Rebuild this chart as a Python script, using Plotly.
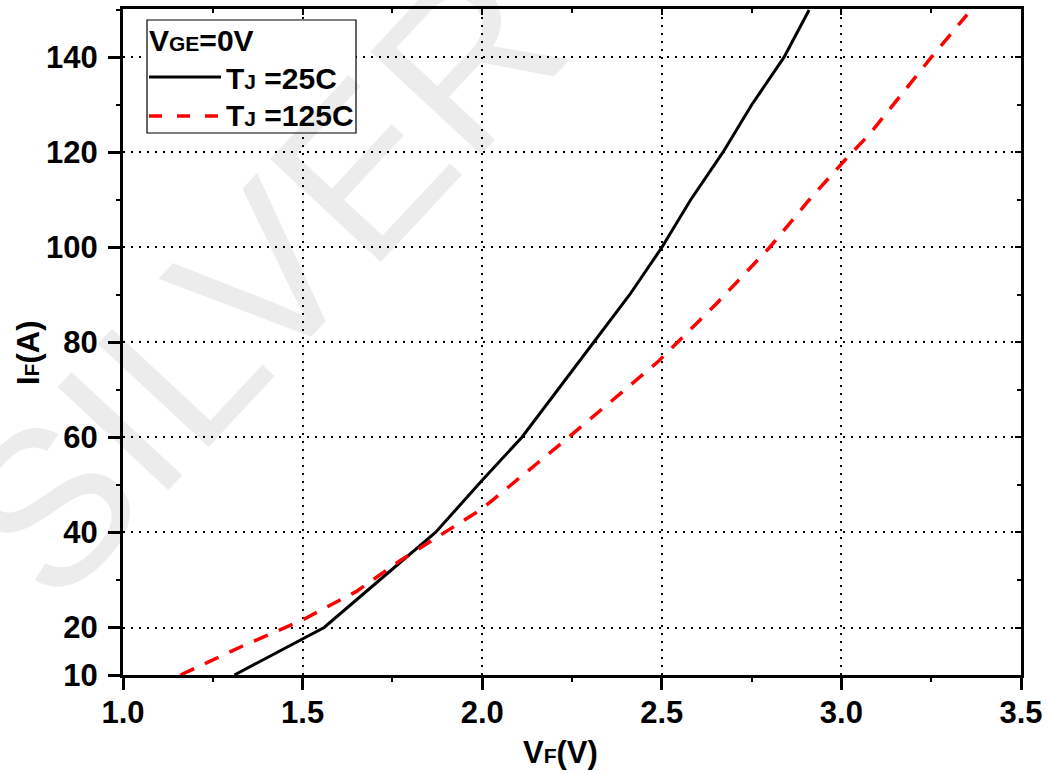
import plotly.graph_objects as go

# ---- data ----
vf_25 = [1.31, 1.56, 1.73, 1.87, 2.00, 2.11, 2.21, 2.31, 2.41, 2.50, 2.58, 2.67, 2.75, 2.84, 2.91]
if_25 = [10, 20, 31, 40, 51, 60, 70, 80, 90, 100, 110, 120, 130, 140, 150]

vf_125 = [1.16, 1.33, 1.50, 1.65, 1.77, 2.00, 2.24, 2.49, 2.65, 2.80, 2.91, 3.01, 3.08, 3.25, 3.35]
if_125 = [10, 16, 21.6, 27.6, 34, 45, 60, 76, 88, 100, 110, 118.4, 124, 140, 149]

x_ticks = [1.0, 1.5, 2.0, 2.5, 3.0, 3.5]
x_ticktext = ["1.0", "1.5", "2.0", "2.5", "3.0", "3.5"]
y_ticks = [10, 20, 40, 60, 80, 100, 120, 140]
y_minor = [30, 50, 70, 90, 110, 130, 150]
x_minor = [1.25, 1.75, 2.25, 2.75, 3.25]

FONT = "Liberation Sans, Arial, sans-serif"
X_RANGE = [1.0, 3.5]
Y_RANGE = [10, 150.2]

fig = go.Figure()
fig.add_trace(go.Scatter(x=vf_25, y=if_25, mode="lines", showlegend=False,
                         line=dict(color="black", width=3)))
fig.add_trace(go.Scatter(x=vf_125, y=if_125, mode="lines", showlegend=False,
                         line=dict(color="#ff0000", width=3.5, dash="15px,12px")))

tickfont = dict(family=FONT, size=31, color="black", weight="bold")

fig.update_layout(
    width=1047, height=774,
    margin=dict(l=123, r=26, t=9, b=99),
    paper_bgcolor="white", plot_bgcolor="white",
    font=dict(family=FONT, color="black"),
    xaxis=dict(
        range=X_RANGE, tickvals=x_ticks, ticktext=x_ticktext,
        ticks="outside", ticklen=12, tickwidth=3, tickcolor="black",
        tickfont=tickfont, ticklabelstandoff=-4,
        minor=dict(tickvals=x_minor, ticks="outside", ticklen=4, tickwidth=2,
                   tickcolor="black", showgrid=False),
        showline=True, linecolor="black", linewidth=3, mirror=True,
        showgrid=True, gridcolor="black", gridwidth=2, griddash="2px,6px",
        zeroline=False, automargin=False,
    ),
    yaxis=dict(
        range=Y_RANGE, tickvals=y_ticks,
        ticks="outside", ticklen=12, tickwidth=3, tickcolor="black",
        tickfont=tickfont, ticklabelstandoff=4,
        minor=dict(tickvals=y_minor, ticks="outside", ticklen=4, tickwidth=2,
                   tickcolor="black", showgrid=False),
        showline=True, linecolor="black", linewidth=3, mirror=True,
        showgrid=True, gridcolor="black", gridwidth=2, griddash="2px,6px",
        zeroline=False, automargin=False,
    ),
    xaxis2=dict(
        overlaying="x", side="top", anchor="y", range=X_RANGE,
        tickvals=x_ticks, ticks="inside", ticklen=6, tickwidth=2, tickcolor="black",
        showticklabels=False, showgrid=False, showline=False, zeroline=False,
        minor=dict(tickvals=x_minor, ticks="inside", ticklen=4, tickwidth=2, tickcolor="black"),
    ),
    yaxis2=dict(
        overlaying="y", side="right", anchor="x", range=Y_RANGE,
        tickvals=y_ticks, ticks="inside", ticklen=6, tickwidth=2, tickcolor="black",
        showticklabels=False, showgrid=False, showline=False, zeroline=False,
        minor=dict(tickvals=y_minor, ticks="inside", ticklen=4, tickwidth=2, tickcolor="black"),
    ),
)

# invisible trace so the mirrored tick axes are drawn
fig.add_trace(go.Scatter(x=[X_RANGE[0]], y=[Y_RANGE[0]], xaxis="x2", yaxis="y2",
                         mode="markers", marker=dict(opacity=0), showlegend=False,
                         hoverinfo="skip"))


def px_x(p):
    return (p - 123) / 898.0


def px_y(p):
    return (675 - p) / 666.0


# ---- watermark ----
fig.add_annotation(
    text="SILVER", xref="paper", yref="paper", x=0.153, y=0.593,
    xanchor="center", yanchor="middle",
    showarrow=False, textangle=-47,
    font=dict(family=FONT, size=220, color="rgba(0,0,0,0.075)"),
)

# ---- axis titles ----
titlefont = dict(family=FONT, size=31, color="black", weight="bold")
fig.add_annotation(text="V<span style='font-size:21px'>F</span>(V)",
                   xref="paper", yref="paper", x=px_x(560), y=px_y(753),
                   xanchor="center", yanchor="middle", showarrow=False, font=titlefont)
fig.add_annotation(text="I<span style='font-size:21px'>F</span>(A)",
                   xref="paper", yref="paper", x=px_x(28), y=px_y(353),
                   xanchor="center", yanchor="middle", showarrow=False,
                   textangle=-90, font=titlefont)

# ---- legend (hand-built to match the reference box) ----
fig.add_shape(type="rect", xref="paper", yref="paper",
              x0=px_x(147), x1=px_x(356), y0=px_y(133), y1=px_y(20),
              line=dict(color="black", width=1.2), fillcolor="white", layer="above")
fig.add_shape(type="line", xref="paper", yref="paper",
              x0=px_x(149), x1=px_x(221), y0=px_y(77), y1=px_y(77),
              line=dict(color="black", width=3))
fig.add_shape(type="line", xref="paper", yref="paper",
              x0=px_x(149), x1=px_x(221), y0=px_y(116), y1=px_y(116),
              line=dict(color="#ff0000", width=3.5, dash="13px,15px"))

legfont = dict(family=FONT, size=30, color="black", weight="bold")
fig.add_annotation(text="V<span style='font-size:21px'>GE</span>=0V",
                   xref="paper", yref="paper", x=px_x(147), y=px_y(40),
                   xanchor="left", yanchor="middle", showarrow=False, font=legfont)
fig.add_annotation(text="T<span style='font-size:21px'>J</span> =25C",
                   xref="paper", yref="paper", x=px_x(224), y=px_y(78),
                   xanchor="left", yanchor="middle", showarrow=False, font=legfont)
fig.add_annotation(text="T<span style='font-size:21px'>J</span> =125C",
                   xref="paper", yref="paper", x=px_x(224), y=px_y(116),
                   xanchor="left", yanchor="middle", showarrow=False, font=legfont)

fig.write_html("out.html")
